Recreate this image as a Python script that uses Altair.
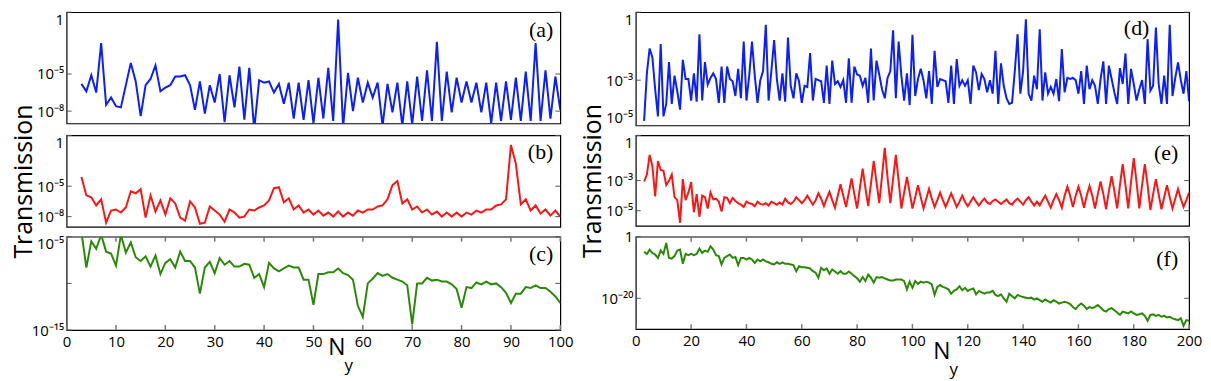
import altair as alt
import pandas as pd

# ---------------- data (log10 of transmission) ----------------
N_LEFT = list(range(3, 101))
N_RIGHT = list(range(3, 201))

A_LOG = [-5.8, -6.4, -5.1, -6.5, -2.5, -7.5, -6.9, -7.6, -7.7, -5.9,
         -4.1, -5.6, -8.4, -5.9, -5.4, -4.3, -6.4, -6.1, -5.9, -5.2,
         -5.2, -5.1, -5.9, -7.9, -5.6, -8.2, -5.9, -7.3, -5.0, -8.9,
         -5.1, -7.7, -4.4, -8.7, -4.5, -9.5, -5.5, -5.7, -5.6, -6.5,
         -5.8, -7.4, -5.7, -8.6, -5.7, -8.7, -5.5, -9.0, -5.3, -8.6,
         -4.5, -8.8, -0.6, -9.3, -4.9, -8.0, -5.3, -7.3, -5.7, -6.9,
         -5.7, -9.2, -5.8, -8.1, -5.7, -9.2, -5.6, -9.1, -5.2, -8.8,
         -4.7, -8.8, -2.4, -8.8, -4.8, -8.1, -5.3, -7.3, -5.6, -7.3,
         -5.7, -8.1, -5.7, -9.0, -5.7, -8.8, -5.6, -8.7, -5.3, -8.8,
         -4.8, -8.8, -2.5, -8.8, -4.7, -8.6, -5.2, -7.9]

B_LOG = [-4.1, -5.9, -6.1, -6.9, -6.3, -8.6, -7.4, -7.3, -7.6, -7.1,
         -5.5, -5.7, -5.3, -8.1, -5.9, -7.5, -6.4, -7.8, -6.2, -6.7,
         -8.1, -8.4, -6.5, -7.1, -8.7, -8.6, -7.0, -7.4, -7.8, -8.5,
         -7.3, -7.6, -8.1, -8.0, -7.3, -7.4, -7.1, -6.9, -6.4, -5.2,
         -5.1, -6.6, -6.2, -7.3, -6.9, -7.6, -7.3, -7.8, -7.4, -7.9,
         -7.6, -8.0, -7.5, -8.0, -7.6, -7.9, -7.4, -7.6, -7.3, -7.3,
         -7.0, -6.9, -6.3, -4.9, -4.5, -6.7, -6.3, -7.3, -7.0, -7.6,
         -7.3, -7.8, -7.5, -8.0, -7.6, -8.0, -7.6, -8.0, -7.6, -7.8,
         -7.4, -7.6, -7.3, -7.3, -6.9, -6.8, -6.3, -0.95, -2.8, -6.8,
         -6.3, -7.4, -6.9, -7.7, -7.3, -7.9, -7.4, -8.0]

C_LOG = [-4.5, -8.3, -5.5, -6.3, -4.8, -6.6, -6.8, -8.1, -4.8, -6.7,
         -5.6, -7.2, -7.6, -7.1, -8.2, -7.0, -9.0, -7.8, -7.4, -8.3,
         -6.6, -7.6, -7.6, -8.3, -11.1, -8.3, -7.7, -8.9, -7.3, -8.0,
         -7.6, -8.2, -8.2, -7.9, -8.0, -9.4, -9.0, -10.4, -7.8, -8.4,
         -8.7, -8.4, -8.1, -8.3, -8.3, -9.6, -9.6, -12.3, -9.0, -9.0,
         -8.8, -8.8, -8.4, -8.9, -9.1, -9.6, -12.4, -13.6, -10.0, -9.5,
         -8.9, -9.2, -9.0, -9.4, -9.6, -9.8, -10.2, -14.4, -10.0, -10.0,
         -9.4, -9.7, -9.6, -9.8, -9.8, -10.1, -10.6, -12.6, -10.4, -10.5,
         -9.9, -10.1, -9.8, -10.1, -10.0, -10.4, -11.0, -12.1, -11.1, -11.1,
         -10.4, -10.5, -10.2, -10.5, -10.5, -10.9, -11.4, -12.1]

D_LOG = [-4.8, -2.7, -1.6, -2.0, -3.4, -4.6, -1.4, -4.6, -4.05, -2.2,
         -4.05, -2.8, -3.5, -4.3, -2.1, -2.95, -2.95, -3.9, -2.7, -3.95,
         -0.97, -3.9, -2.2, -3.2, -2.9, -2.7, -2.95, -4.0, -2.4, -4.0,
         -2.4, -2.95, -3.05, -3.7, -2.5, -3.8, -1.3, -3.9, -2.8, -1.3,
         -2.8, -4.0, -3.0, -2.6, -0.56, -3.9, -2.6, -1.23, -2.95, -3.9,
         -2.7, -3.95, -1.12, -3.25, -3.8, -2.7, -3.05, -4.0, -3.25, -3.3,
         -1.8, -3.9, -2.95, -3.0, -3.05, -4.0, -2.36, -4.05, -2.14, -3.17,
         -3.05, -3.3, -3.0, -4.0, -2.04, -4.0, -2.4, -2.75, -2.8, -3.25,
         -2.9, -4.0, -1.6, -3.9, -2.14, -2.75, -3.4, -3.8, -2.9, -2.6,
         -0.8, -3.8, -1.3, -2.8, -3.9, -2.7, -4.1, -1.0, -3.7, -2.95,
         -2.5, -3.0, -3.8, -2.6, -4.05, -1.7, -3.3, -2.95, -3.0, -3.05,
         -4.0, -2.36, -4.05, -2.07, -3.25, -3.0, -3.25, -3.0, -4.05, -2.36,
         -2.66, -3.44, -2.73, -2.95, -3.54, -3.0, -3.6, -1.7, -4.05, -2.26,
         -3.25, -3.8, -4.05, -4.0, -2.6, -0.97, -3.6, -2.6, -0.31, -3.6,
         -3.9, -2.8, -3.4, -0.75, -3.9, -2.66, -3.6, -3.3, -3.6, -2.95,
         -3.93, -1.63, -3.54, -2.9, -2.95, -2.9, -3.0, -3.6, -2.6, -4.05,
         -2.36, -3.4, -3.0, -3.25, -4.05, -2.95, -2.17, -4.05, -2.36, -2.95,
         -3.54, -4.05, -2.47, -3.17, -1.82, -4.05, -2.5, -3.17, -3.9, -3.4,
         -3.0, -4.05, -1.19, -3.47, -3.25, -0.68, -3.17, -4.05, -2.8, -4.05,
         -0.56, -3.7, -2.9, -2.22, -3.0, -3.6, -2.6, -3.93]

E_LOG = [-3.06, -2.6, -1.3, -2.05, -4.05, -1.7, -2.3, -2.35, -3.3, -3.0,
         -2.6, -4.1, -4.3, -5.8, -2.9, -4.3, -3.8, -3.1, -5.1, -3.9,
         -5.4, -4.0, -4.1, -4.85, -3.8, -4.25, -4.2, -4.4, -5.05, -4.1,
         -4.15, -4.5, -4.15, -4.35, -4.5, -4.6, -4.75, -4.4, -4.5, -4.55,
         -4.7, -4.4, -4.55, -4.6, -4.5, -4.65, -4.4, -4.5, -4.6, -4.45,
         -4.6, -4.2, -4.45, -4.55, -4.4, -4.1, -4.3, -4.5, -4.3, -4.0,
         -4.3, -4.6, -4.3, -3.85, -4.2, -4.7, -4.2, -3.75, -4.3, -4.8,
         -4.0, -3.25, -4.0, -4.75, -3.8, -2.85, -3.9, -4.85, -3.5, -2.2,
         -3.5, -4.7, -3.2, -1.7, -3.1, -4.5, -2.7, -0.83, -2.8, -4.5,
         -2.9, -1.3, -3.0, -4.85, -3.8, -2.76, -3.8, -4.85, -4.1, -3.3,
         -4.1, -4.85, -4.2, -3.55, -4.2, -4.75, -4.3, -3.8, -4.3, -4.75,
         -4.3, -3.85, -4.3, -4.75, -4.4, -4.0, -4.4, -4.7, -4.4, -4.1,
         -4.4, -4.65, -4.4, -4.2, -4.45, -4.55, -4.35, -4.25, -4.4, -4.55,
         -4.4, -4.25, -4.5, -4.6, -4.35, -4.2, -4.4, -4.6, -4.3, -4.1,
         -4.4, -4.65, -4.4, -4.65, -4.3, -4.0, -4.4, -4.8, -4.3, -3.9,
         -4.3, -4.8, -4.0, -3.4, -4.0, -4.75, -4.0, -3.4, -4.0, -4.8,
         -4.0, -3.35, -4.0, -4.85, -3.9, -3.06, -3.9, -4.9, -3.7, -2.7,
         -3.7, -4.85, -3.3, -1.9, -3.3, -4.85, -3.1, -1.5, -3.1, -4.85,
         -3.3, -1.9, -3.3, -4.95, -3.9, -2.9, -3.9, -4.9, -4.1, -3.3,
         -4.1, -4.85, -4.2, -3.55, -4.2, -4.75, -4.3, -3.8]

F_LOG = [-4.9, -5.6, -4.2, -5.3, -5.8, -6.9, -4.5, -5.6, -2.0, -6.9,
         -7.1, -6.3, -4.5, -4.2, -8.8, -5.6, -6.0, -5.6, -6.0, -5.6,
         -3.9, -5.3, -4.5, -4.9, -3.1, -4.2, -6.0, -6.3, -9.0, -6.9,
         -6.3, -5.8, -6.9, -6.6, -9.2, -6.9, -6.9, -7.4, -6.9, -7.4,
         -8.5, -7.4, -8.0, -7.4, -8.0, -8.3, -8.8, -9.0, -8.3, -8.8,
         -8.3, -8.8, -8.8, -9.0, -9.2, -11.2, -9.6, -9.9, -9.9, -10.1,
         -10.3, -11.2, -11.7, -13.3, -10.1, -10.9, -10.3, -12.0, -10.6, -11.3,
         -12.0, -11.2, -12.0, -12.0, -11.3, -12.0, -12.8, -13.5, -14.6, -13.1,
         -14.4, -12.3, -13.3, -14.9, -13.1, -13.3, -13.1, -13.5, -13.9, -14.2,
         -14.2, -13.9, -13.9, -13.9, -14.4, -17.1, -14.6, -16.6, -14.4, -15.3,
         -14.6, -14.9, -14.6, -14.9, -15.5, -18.9, -16.3, -15.7, -16.3, -16.6,
         -17.1, -18.5, -17.6, -17.1, -16.1, -17.4, -16.6, -17.6, -17.1, -16.8,
         -18.7, -17.6, -18.1, -18.5, -18.1, -18.1, -17.6, -18.9, -19.3, -18.7,
         -20.0, -21.1, -18.5, -19.3, -20.0, -18.9, -19.3, -19.6, -19.8, -20.0,
         -19.8, -20.4, -20.0, -20.6, -21.1, -20.4, -20.9, -21.4, -20.6, -21.1,
         -21.7, -21.4, -21.1, -21.4, -21.9, -22.8, -23.5, -22.4, -21.7, -22.4,
         -23.5, -22.8, -23.2, -22.8, -22.2, -23.0, -23.9, -24.3, -23.5, -23.2,
         -23.9, -24.6, -25.4, -24.3, -24.6, -24.9, -24.3, -24.9, -25.4, -25.2,
         -24.9, -25.7, -27.3, -25.4, -25.2, -25.7, -25.4, -26.0, -25.7, -26.2,
         -26.0, -26.5, -26.8, -27.1, -26.5, -28.9, -27.1, -27.3]

X_TICKS_LEFT = [0, 10, 20, 30, 40, 50, 60, 70, 80, 90, 100]
X_TICKS_RIGHT = [0, 20, 40, 60, 80, 100, 120, 140, 160, 180, 200]

Y_TICKS_AB = [0, -5, -8]
Y_LABELS_AB = ["1", "10⁻⁵", "10⁻⁸"]
Y_TICKS_C = [-5, -10, -15]
Y_LABELS_C = ["10⁻⁵", "", "10⁻¹⁵"]
Y_TICKS_DE = [0, -3, -5]
Y_LABELS_DE = ["1", "10⁻³", "10⁻⁵"]
Y_TICKS_F = [0, -20]
Y_LABELS_F = ["1", "10⁻²⁰"]

BLUE = "#0a1eff"
RED = "#ff1414"
GREEN = "#2a8a08"
FONT = "Open Sans"


def label_expr(vals, labels):
    parts = [f"datum.value == {v} ? '{l}'" for v, l in zip(vals, labels)]
    return " : ".join(parts) + " : ''"


def panel(n, vals, color, ydom, yticks, ylabels, xmax, W, H, letter, lx, ly,
          xticks=None, ytitle=False, ntitle=None, flush=True, top_label=None):
    df = pd.DataFrame({"N": n, "logT": vals})
    xscale = alt.Scale(domain=[0, xmax], nice=False, zero=False)
    yscale = alt.Scale(domain=ydom, nice=False, zero=False)
    if xticks is not None:
        xaxis = alt.Axis(values=xticks, ticks=False, domain=False, grid=False,
                         labelFontSize=15, labelFont=FONT, labelColor="black",
                         labelPadding=5, title=None, labelFlush=False)
    else:
        xaxis = None
    yaxis_kw = dict(values=yticks, labelExpr=label_expr(yticks, ylabels),
                    ticks=False, domain=False, grid=False, labelFlush=flush,
                    labelFontSize=15, labelFont=FONT, labelColor="black",
                    labelPadding=3)
    if top_label is not None:
        yaxis_kw["labelBaseline"] = {
            "condition": {"test": f"datum.value == {top_label}", "value": "top"},
            "value": "middle"}
    if ytitle:
        yaxis = alt.Axis(title="Transmission", titleFontSize=25, titleFont=FONT,
                         titleFontWeight="normal", titleColor="black",
                         titlePadding=0, **yaxis_kw)
    else:
        yaxis = alt.Axis(title=None, **yaxis_kw)
    xenc = alt.X("N:Q", scale=xscale, axis=xaxis)
    yenc = alt.Y("logT:Q", scale=yscale, axis=yaxis)

    line = alt.Chart(df).mark_line(color=color, strokeWidth=2, clip=True).encode(x=xenc, y=yenc)

    ytdf = pd.DataFrame({"logT": yticks})
    ytl = alt.Chart(ytdf).mark_rule(color="#555555", strokeWidth=1).encode(
        y=yenc, x=alt.value(0), x2=alt.value(5))
    ytr = alt.Chart(ytdf).mark_rule(color="#555555", strokeWidth=1).encode(
        y=yenc, x=alt.value(W - 5), x2=alt.value(W))
    layers = [line, ytl, ytr]

    if xticks is not None:
        xtdf = pd.DataFrame({"N": xticks})
        xtb = alt.Chart(xtdf).mark_rule(color="#777777", strokeWidth=1.5).encode(
            x=xenc, y=alt.value(H - 5), y2=alt.value(H))
        xtt = alt.Chart(xtdf).mark_rule(color="#777777", strokeWidth=1.5).encode(
            x=xenc, y=alt.value(0), y2=alt.value(5))
        layers += [xtb, xtt]

    lab = alt.Chart(pd.DataFrame({"t": [letter]})).mark_text(
        font="Liberation Serif", fontSize=22, align="right", baseline="middle",
        color="black").encode(x=alt.value(W - lx), y=alt.value(ly), text="t:N")
    layers.append(lab)

    if ntitle is not None:
        nx, ny = ntitle
        one = pd.DataFrame({"t": ["N"]})
        nt = alt.Chart(one).mark_text(font=FONT, fontSize=23, align="center",
                                      baseline="middle", color="black").encode(
            x=alt.value(nx), y=alt.value(ny), text=alt.value("N"))
        yt = alt.Chart(one).mark_text(font=FONT, fontSize=17, align="center",
                                      baseline="middle", color="black").encode(
            x=alt.value(nx + 12), y=alt.value(ny + 18), text=alt.value("y"))
        layers += [nt, yt]

    return alt.layer(*layers).properties(width=W, height=H)


WL, WR = 497, 557
pa = panel(N_LEFT, A_LOG, BLUE, [-9, 0], Y_TICKS_AB, Y_LABELS_AB, 100, WL, 112, "(a)", 7, 18)
pb = panel(N_LEFT, B_LOG, RED, [-9, 0], Y_TICKS_AB, Y_LABELS_AB, 100, WL, 92, "(b)", 7, 17, ytitle=True)
pc = panel(N_LEFT, C_LOG, GREEN, [-15, -5], Y_TICKS_C, Y_LABELS_C, 100, WL, 94, "(c)", 7, 17,
           xticks=X_TICKS_LEFT, ntitle=(272, 112), flush=False, top_label=-5)
pd_ = panel(N_RIGHT, D_LOG, BLUE, [-5, 0], Y_TICKS_DE, Y_LABELS_DE, 200, WR, 114, "(d)", 40, 16)
pe = panel(N_RIGHT, E_LOG, RED, [-6, 0], Y_TICKS_DE, Y_LABELS_DE, 200, WR, 91, "(e)", 11, 18, ytitle=True)
pf = panel(N_RIGHT, F_LOG, GREEN, [-30, 0], Y_TICKS_F, Y_LABELS_F, 200, WR, 93, "(f)", 11, 22,
           xticks=X_TICKS_RIGHT, ntitle=(308, 116), flush=False)

chart = alt.concat(pa, pd_, pb, pe, pc, pf, columns=2,
                   spacing={"row": 10, "column": 76}).properties(
    bounds="flush", align="each",
    padding={"left": 3, "top": 1, "right": 0, "bottom": 0}
).configure(background="white").configure_view(stroke="black", strokeWidth=1.2)

chart.save("out.html", embed_options={"renderer": "svg", "actions": False})
